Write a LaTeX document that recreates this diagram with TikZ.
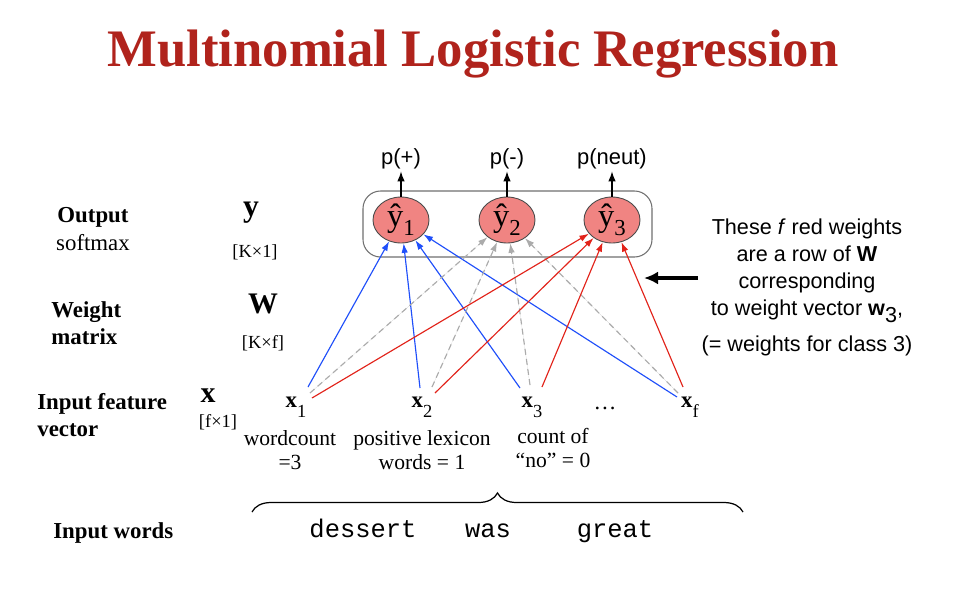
\documentclass[tikz,border=0pt]{standalone}
\usepackage{fontspec}
\setmainfont{Liberation Serif}
\setsansfont{Liberation Sans}
\setmonofont{Liberation Mono}
\usetikzlibrary{arrows.meta,shapes.geometric,decorations.pathreplacing}
\definecolor{TitleRed}{HTML}{B0231C}
\definecolor{Unit}{HTML}{F08482}
\definecolor{UnitRim}{HTML}{4A4A4A}
\definecolor{Frame}{HTML}{707070}
\definecolor{WBlue}{HTML}{1F4FFA}
\definecolor{WRed}{HTML}{E2231A}
\definecolor{WGray}{HTML}{ABABAB}
\newcommand{\featsub}[1]{\raisebox{-6pt}{\normalfont\fontsize{10.5}{12}\selectfont #1}}
\newcommand{\hatsub}[1]{\raisebox{-5pt}{\fontsize{13}{14}\selectfont #1}}
\tikzset{
  unit/.style={ellipse,draw=UnitRim,fill=Unit,line width=.5pt,minimum width=1.12cm,minimum height=.92cm,inner sep=0pt,font=\fontsize{18.5}{19}\selectfont},
  prob/.style={font=\sffamily\fontsize{12.5}{14}\selectfont,inner sep=1pt},
  rowlabel/.style={font=\fontsize{13}{15.6}\selectfont,align=left,inner sep=0pt},
  dimlabel/.style={font=\fontsize{10.5}{12}\selectfont,inner sep=0pt},
  feat/.style={font=\bfseries\fontsize{13}{15}\selectfont,inner sep=0pt,anchor=base},
  featnote/.style={font=\fontsize{12.3}{13.7}\selectfont,align=center,inner sep=0pt},
  word/.style={font=\ttfamily\fontsize{14.5}{16}\selectfont,inner sep=0pt,anchor=base},
  note/.style={font=\sffamily\fontsize{12.3}{15.4}\selectfont,align=center,inner sep=0pt},
  outarrow/.style={-{Latex[length=2mm,width=1.5mm]},line width=.7pt},
  pointer/.style={-{Latex[length=2.8mm,width=2.6mm]},line width=2pt},
  wblue/.style={-{Latex[length=1.9mm,width=1.3mm]},draw=WBlue,line width=.65pt},
  wred/.style={-{Latex[length=1.9mm,width=1.3mm]},draw=WRed,line width=.65pt},
  wgray/.style={-{Latex[length=1.9mm,width=1.3mm]},draw=WGray,fill=WGray,line width=.65pt,dash pattern=on 3.4pt off 2.4pt}
}
\begin{document}
\begin{tikzpicture}[x=0.02cm,y=-0.02cm]
  \useasboundingbox[fill=white] (0,0) rectangle (968,616);
  % title
  \node[anchor=base,inner sep=0pt,text=TitleRed,font=\bfseries\fontsize{30}{32}\selectfont] (title) at (473,66) {Multinomial Logistic Regression};

  % output layer
  \draw[Frame,line width=.6pt,rounded corners=10] (363,191) rectangle (652,257);
  \node[unit] (y1) at (401,220) {\^y\hatsub{1}};
  \node[unit] (y2) at (507,220) {\^y\hatsub{2}};
  \node[unit] (y3) at (612,220) {\^y\hatsub{3}};
  \node[prob] (p1) at (401,159) {p(+)};
  \node[prob] (p2) at (507,159) {p(-)};
  \node[prob] (p3) at (612,159) {p(neut)};
  \foreach \i in {1,2,3}
    \draw[outarrow] (y\i.north) -- (p\i.south);

  % row labels
  \node[rowlabel,align=center] (outlab) at (93,229) {\textbf{Output}\\softmax};
  \node[rowlabel,anchor=west,font=\bfseries\fontsize{13}{15.6}\selectfont] (wlab) at (51,323) {Weight\\matrix};
  \node[rowlabel,anchor=west,font=\bfseries\fontsize{13}{15.6}\selectfont] (xlab) at (37,415) {Input feature\\vector};
  \node[rowlabel,anchor=west,font=\bfseries\fontsize{13}{15.6}\selectfont] (inlab) at (53,533) {Input words};

  % dimensions
  \node[inner sep=0pt,font=\bfseries\fontsize{18}{20}\selectfont] (yvec) at (251,213) {y};
  \node[dimlabel] (ydim) at (255,252) {[K×1]};
  \node[inner sep=0pt,font=\bfseries\fontsize{17}{20}\selectfont] (wmat) at (263,304) {W};
  \node[dimlabel] (wdim) at (263,343) {[K×f]};
  \node[inner sep=0pt,font=\bfseries\fontsize{17}{20}\selectfont] (xvec) at (208,396) {x};
  \node[dimlabel] (xdim) at (218,422) {[f×1]};

  % features
  \node[feat] (x1) at (296,407) {x\featsub{1}};
  \node[feat] (x2) at (422,407) {x\featsub{2}};
  \node[feat] (x3) at (532,407) {x\featsub{3}};
  \node[feat,font=\fontsize{13}{15}\selectfont] (xdots) at (605,409) {\dots};
  \node[feat] (xf) at (690,407) {x\featsub{f}};
  \node[featnote] (n1) at (290,450) {wordcount\\=3};
  \node[featnote] (n2) at (422,450) {positive lexicon\\words = 1};
  \node[featnote] (n3) at (553,448) {count of\\“no” = 0};

  % weights
  \foreach \n/\px/\py in {b1/308/387,b2/420/388,b3/520/388,bf/677/397,
                          g1/310/393,g2/432/387,g3/530/385,gf/678/393,
                          r1/312/398,r2/435/393,r3/542/387,rf/683/387}
    \coordinate (\n) at (\px,\py);
  \foreach \s in {b1,b2,b3,bf}
    \draw[wblue] (\s) -- (y1);
  \foreach \s in {g1,g2,g3,gf}
    \draw[wgray] (\s) -- (y2);
  \foreach \s in {r1,r2,r3,rf}
    \draw[wred] (\s) -- (y3);

  % note on the right
  \node[note] (rownote) at (807,287) {These \textit{f} red weights\\are a row of \textbf{W}\\corresponding\\to weight vector \textbf{w}\raisebox{-4pt}{3},\\[5pt](= weights for class 3)};
  \coordinate (ptrtail) at (698,278);
  \coordinate (ptrhead) at (644,278);
  \draw[pointer] (ptrtail) -- (ptrhead);

  % input words
  \coordinate (brl) at (252,512);
  \coordinate (brr) at (743,512);
  \draw[line width=.7pt,decorate,decoration={brace,amplitude=0.38cm}] (brl) -- (brr);
  \node[word] (w1) at (363,537) {dessert};
  \node[word] (w2) at (488,537) {was};
  \node[word] (w3) at (615,537) {great};
\end{tikzpicture}
\end{document}
